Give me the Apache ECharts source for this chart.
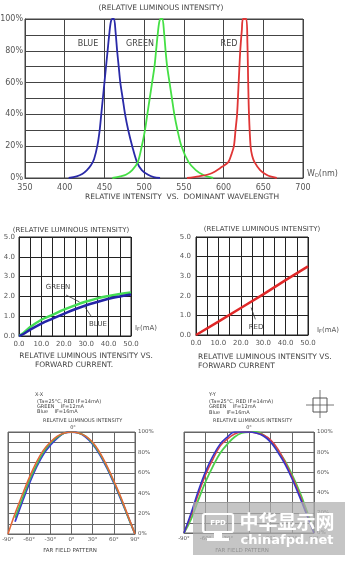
<!DOCTYPE html>
<html><head><meta charset="utf-8">
<script src="https://cdn.jsdelivr.net/npm/echarts@6/dist/echarts.min.js"></script>
<style>html,body{margin:0;padding:0;background:#fff}#c{width:345px;height:561px}</style>
</head><body><div id="c"></div>
<script>
// ---- Spectrum (wavelength nm, relative %) ----
const specBlue = [[405,0],[415,1],[422,2.5],[428,5],[433,8],[437,12],[441,20],[444,30],[446,40],[448,50],[450,60],[452,70],[454,80],[456,90],[458,98],[460,100],[462,100],[464,92],[466,80],[468,70],[470,60],[473,50],[476,40],[480,30],[485,20],[491,10],[497,5],[505,2],[512,0.6],[520,0]];
const specGreen = [[460,0],[470,1],[477,2],[485,5],[492,10],[497,20],[501,30],[504,40],[507,50],[510,60],[513,70],[515,80],[517,90],[519,98],[521,100],[523,100],[525,92],[527,80],[529,70],[532,60],[535,50],[538,40],[542,30],[547,20],[556,10],[565,5],[574,2],[580,0.8],[587,0]];
const specRed = [[554,0],[569,1],[585,3],[598,7],[606,10],[610,15],[613,20],[615,30],[617,40],[619,60],[621,80],[623,93],[624.5,100],[628.5,100],[630,85],[631,60],[632,40],[634,20],[636,14],[639,10],[646,5],[654,2],[660,0.8],[667,0]];
const specTicksX = [350,400,450,500,550,600,650,700];
const specTicksY = ['0%','20%','40%','60%','80%','100%'];

// ---- Relative intensity vs forward current (mA, relative) ----
const ifGreen = [[0,0],[2,0.15],[5,0.45],[10,0.82],[15,1.07],[20,1.33],[25,1.55],[30,1.74],[35,1.9],[40,2.02],[45,2.12],[50,2.2]];
const ifBlue  = [[0,0],[2,0.1],[5,0.32],[10,0.63],[15,0.88],[20,1.12],[25,1.35],[30,1.55],[35,1.72],[40,1.88],[45,2.0],[50,2.1]];
const ifRed   = [[0,0],[10,0.68],[20,1.38],[30,2.07],[40,2.8],[50,3.5]];
const ifTicksX = ['0.0','10.0','20.0','30.0','40.0','50.0'];
const ifTicksY = ['0.0','1.0','2.0','3.0','4.0','5.0'];

// ---- Far field pattern (angle deg, relative %) ----
const angles = [-90,-80,-70,-60,-50,-40,-30,-20,-10,0,10,20,30,40,50,60,70,80,90];
const xxRed   = [0,20,38,55,70,82,90,96,99,100,99,96,90,80,67,52,36,18,0];
const xxGreen = [null,16,34,52,67,80,89,95,99,100,99,96,89,79,66,51,35,17,0];
const xxBlue  = [null,12,31,49,65,78,87,94,99,100,99,95,88,78,65,50,34,17,0];
const yyBlue  = [0,20,42,61,76,88,95,100,100,100,99,96,90,80,68,53,36,18,0];
const yyRed   = [0,18,39,58,73,86,93,98,100,100,99,97,92,83,70,55,38,19,0];
const yyGreen = [0,14,33,51,66,79,88,95,99,100,100,97,91,82,71,57,41,22,2];
const angleTicks = ['-90°','-60°','-30°','0°','30°','60°','90°'];
const pctTicks = ['0%','20%','40%','60%','80%','100%'];

const F = '"DejaVu Sans","Liberation Sans",sans-serif';
const pair = (xs, ys) => xs.map((x,i)=>[x, ys[i]]).filter(p=>p[1]!==null);

function grid(l,t,w,h,bc){return {left:l,top:t,width:w,height:h,show:true,borderColor:bc,borderWidth:1,outerBoundsMode:'none',containLabel:false};}
function split(c,w){return {show:true,lineStyle:{color:c,width:w}};}

const chart = echarts.init(document.getElementById('c'), null, {renderer:'canvas'});
const txt = (text,x,y,size,align,extra) => Object.assign({type:'text',silent:true,style:{text:text,x:x,y:y,font:size+'px '+F,fill:'#444',align:align||'center',verticalAlign:'middle'}}, extra||{});

const option = {
  animation:false,
  backgroundColor:'#fff',
  grid:[grid(25,19,278,159,'#444'), grid(19,237,112,99,'#222'), grid(196,237,112,98,'#222'), grid(8,432,127,102,'#666'), grid(184,432,130,101,'#666')],
  xAxis:[
    {gridIndex:0,type:'value',min:350,max:700,interval:50,axisLine:{show:true,lineStyle:{color:'#444'}},axisTick:{show:false},splitLine:split('#444',1),
     axisLabel:{fontSize:8,fontFamily:F,color:'#555',margin:6,formatter:v=>specTicksX.indexOf(v)>=0?String(v):''},
     name:'W{s|D}(nm)',nameLocation:'end',nameGap:4,nameTextStyle:{fontSize:8,fontFamily:F,color:'#555',padding:[0,0,8,0],rich:{s:{fontSize:5,fontFamily:F,color:'#555',padding:[4,0,0,0]}}}},
    {gridIndex:1,type:'value',min:0,max:50,interval:5,axisLine:{show:true,lineStyle:{color:'#222'}},axisTick:{show:false},splitLine:split('#222',1),
     axisLabel:{fontSize:7,fontFamily:F,color:'#555',margin:5,formatter:v=>v%10===0?ifTicksX[v/10]:''},
     name:'I{s|F}(mA)',nameLocation:'end',nameGap:4,nameTextStyle:{fontSize:7,fontFamily:F,color:'#555',padding:[0,0,16,0],rich:{s:{fontSize:5,fontFamily:F,color:'#555',padding:[4,0,0,0]}}}},
    {gridIndex:2,type:'value',min:0,max:50,interval:5,axisLine:{show:true,lineStyle:{color:'#222'}},axisTick:{show:false},splitLine:split('#222',1),
     axisLabel:{fontSize:7,fontFamily:F,color:'#555',margin:5,formatter:v=>v%10===0?ifTicksX[v/10]:''},
     name:'I{s|F}(mA)',nameLocation:'end',nameGap:9,nameTextStyle:{fontSize:7,fontFamily:F,color:'#555',padding:[0,0,10,0],rich:{s:{fontSize:5,fontFamily:F,color:'#555',padding:[4,0,0,0]}}}},
    {gridIndex:3,type:'value',min:-90,max:90,interval:30,axisLine:{show:true,lineStyle:{color:'#666'}},axisTick:{show:false},splitLine:split('#666',1),
     axisLabel:{fontSize:5.5,fontFamily:F,color:'#555',margin:3,formatter:v=>angleTicks[(v+90)/30]}},
    {gridIndex:4,type:'value',min:-90,max:90,interval:30,axisLine:{show:true,lineStyle:{color:'#666'}},axisTick:{show:false},splitLine:split('#666',1),
     axisLabel:{fontSize:5.5,fontFamily:F,color:'#555',margin:3,formatter:v=>angleTicks[(v+90)/30]}}
  ],
  yAxis:[
    {gridIndex:0,type:'value',min:0,max:100,interval:10,axisLine:{show:true,lineStyle:{color:'#444'}},axisTick:{show:false},splitLine:split('#444',1),
     axisLabel:{fontSize:8,fontFamily:F,color:'#555',margin:2,formatter:v=>v%20===0?specTicksY[v/20]:''}},
    {gridIndex:1,type:'value',min:0,max:5,interval:1,axisLine:{show:true,lineStyle:{color:'#222'}},axisTick:{show:false},splitLine:split('#222',1),
     axisLabel:{fontSize:7,fontFamily:F,color:'#555',margin:4,formatter:v=>ifTicksY[v]}},
    {gridIndex:2,type:'value',min:0,max:5,interval:1,axisLine:{show:true,lineStyle:{color:'#222'}},axisTick:{show:false},splitLine:split('#222',1),
     axisLabel:{fontSize:7,fontFamily:F,color:'#555',margin:5,formatter:v=>ifTicksY[v]}},
    {gridIndex:3,type:'value',position:'right',min:0,max:100,interval:10,axisLine:{show:true,lineStyle:{color:'#666'}},axisTick:{show:false},splitLine:split('#666',1),
     axisLabel:{fontSize:5.5,fontFamily:F,color:'#555',margin:3,formatter:v=>v%20===0?pctTicks[v/20]:''}},
    {gridIndex:4,type:'value',position:'right',min:0,max:100,interval:10,axisLine:{show:true,lineStyle:{color:'#666'}},axisTick:{show:false},splitLine:split('#666',1),
     axisLabel:{fontSize:5.5,fontFamily:F,color:'#555',margin:3,formatter:v=>v%20===0?pctTicks[v/20]:''}}
  ],
  series:[
    {type:'line',xAxisIndex:0,yAxisIndex:0,data:specBlue,showSymbol:false,smooth:0.3,lineStyle:{color:'#2a2aa8',width:1.8}},
    {type:'line',xAxisIndex:0,yAxisIndex:0,data:specGreen,showSymbol:false,smooth:0.3,lineStyle:{color:'#45e045',width:1.8}},
    {type:'line',xAxisIndex:0,yAxisIndex:0,data:specRed,showSymbol:false,smooth:0.3,lineStyle:{color:'#e03535',width:1.8}},
    {type:'line',xAxisIndex:1,yAxisIndex:1,data:ifGreen,showSymbol:false,smooth:0.4,lineStyle:{color:'#44dd55',width:2.5},
     markLine:{silent:true,symbol:'none',label:{show:false},lineStyle:{color:'#333',width:0.8,type:'solid'},data:[[{coord:[21,2.07]},{coord:[27,1.72]}]]}},
    {type:'line',xAxisIndex:1,yAxisIndex:1,data:ifBlue,showSymbol:false,smooth:0.4,lineStyle:{color:'#2424a8',width:2.5},
     markLine:{silent:true,symbol:'none',label:{show:false},lineStyle:{color:'#333',width:0.8,type:'solid'},data:[[{coord:[32.5,0.95]},{coord:[29.5,1.45]}]]}},
    {type:'line',xAxisIndex:2,yAxisIndex:2,data:ifRed,showSymbol:false,lineStyle:{color:'#e02828',width:2.5},
     markLine:{silent:true,symbol:'none',label:{show:false},lineStyle:{color:'#333',width:0.8,type:'solid'},data:[[{coord:[26.5,0.8]},{coord:[24.6,1.4]}]]}},
    {type:'line',xAxisIndex:3,yAxisIndex:3,data:pair(angles,xxBlue),showSymbol:false,smooth:0.4,lineStyle:{color:'#3a3ad0',width:1.8}},
    {type:'line',xAxisIndex:3,yAxisIndex:3,data:pair(angles,xxGreen),showSymbol:false,smooth:0.4,lineStyle:{color:'#3cbf5a',width:1.6}},
    {type:'line',xAxisIndex:3,yAxisIndex:3,data:pair(angles,xxRed),showSymbol:false,smooth:0.4,lineStyle:{color:'#e2683a',width:1.6}},
    {type:'line',xAxisIndex:4,yAxisIndex:4,data:pair(angles,yyGreen),showSymbol:false,smooth:0.4,lineStyle:{color:'#4ccf4c',width:1.8}},
    {type:'line',xAxisIndex:4,yAxisIndex:4,data:pair(angles,yyRed),showSymbol:false,smooth:0.4,lineStyle:{color:'#d8404a',width:1.6}},
    {type:'line',xAxisIndex:4,yAxisIndex:4,data:pair(angles,yyBlue),showSymbol:false,smooth:0.4,lineStyle:{color:'#3535c8',width:1.6}}
  ],
  graphic:[
    txt('(RELATIVE LUMINOUS INTENSITY)',161,8,7.5),
    txt('BLUE',88,44,8), txt('GREEN',140,44,8), txt('RED',229,44,8),
    txt('RELATIVE INTENSITY  VS.  DOMINANT WAVELENGTH',182,197,7.5),
    txt('(RELATIVE LUMINOUS INTENSITY)',71,230,7),
    txt('GREEN',58,287,7), txt('BLUE',98,324,7),
    txt('RELATIVE LUMINOUS INTENSITY VS.',86,356,7.5),
    txt('FORWARD CURRENT.',74,365,7.5),
    txt('(RELATIVE LUMINOUS INTENSITY)',262,229,7),
    txt('RED',256,327,7),
    txt('RELATIVE LUMINOUS INTENSITY VS.',198,357,7.5,'left'),
    txt('FORWARD CURRENT',198,366,7.5,'left'),
    txt('X-X',35,395,5,'left'),
    txt('(Ta=25°C, RED IF=14mA)',37,402,5,'left'),
    txt('GREEN    IF=12mA',37,407,5,'left'),
    txt('Blue    IF=16mA',37,412,5,'left'),
    txt('RELATIVE LUMINOUS INTENSITY',43,421,5,'left'),
    txt('0°',73,428,5),
    txt('FAR FIELD PATTERN',70,551,5.5),
    txt('Y-Y',209,395,5,'left'),
    txt('(Ta=25°C, RED IF=14mA)',209,402,5,'left'),
    txt('GREEN    IF=12mA',209,407,5,'left'),
    txt('Blue    IF=16mA',209,413,5,'left'),
    txt('RELATIVE LUMINOUS INTENSITY',213,421,5,'left'),
    txt('0°',249,428,5),
    txt('FAR FIELD PATTERN',242,551,5.5),
    {type:'rect',silent:true,shape:{x:313,y:398,width:14,height:14},style:{fill:'none',stroke:'#555',lineWidth:1}},
    {type:'line',silent:true,shape:{x1:320,y1:390,x2:320,y2:418},style:{stroke:'#555',lineWidth:0.8}},
    {type:'line',silent:true,shape:{x1:306,y1:405,x2:334,y2:405},style:{stroke:'#555',lineWidth:0.8}},
    // watermark
    {type:'rect',silent:true,z:100,shape:{x:193,y:502,width:152,height:53},style:{fill:'rgba(175,175,175,0.72)'}},
    {type:'rect',silent:true,z:101,shape:{x:203,y:514,width:30,height:18,r:2},style:{fill:'none',stroke:'#fff',lineWidth:2.2}},
    {type:'text',silent:true,z:101,style:{text:'FPD',x:218,y:523,font:'bold 7px '+F,fill:'#fff',align:'center',verticalAlign:'middle'}},
    {type:'rect',silent:true,z:101,shape:{x:214,y:532,width:8,height:6},style:{fill:'#fff'}},
    {type:'rect',silent:true,z:101,shape:{x:207,y:538,width:22,height:3},style:{fill:'#fff'}},
    {type:'text',silent:true,z:101,style:{text:'中华显示网',x:287,y:522,font:'bold 19px "Noto Sans CJK SC",sans-serif',fill:'#fff',align:'center',verticalAlign:'middle'}},
    {type:'text',silent:true,z:101,style:{text:'chinafpd.net',x:287,y:541,font:'bold 13px '+F,fill:'#fff',align:'center',verticalAlign:'middle'}}
  ]
};
chart.setOption(option);
</script></body></html>
